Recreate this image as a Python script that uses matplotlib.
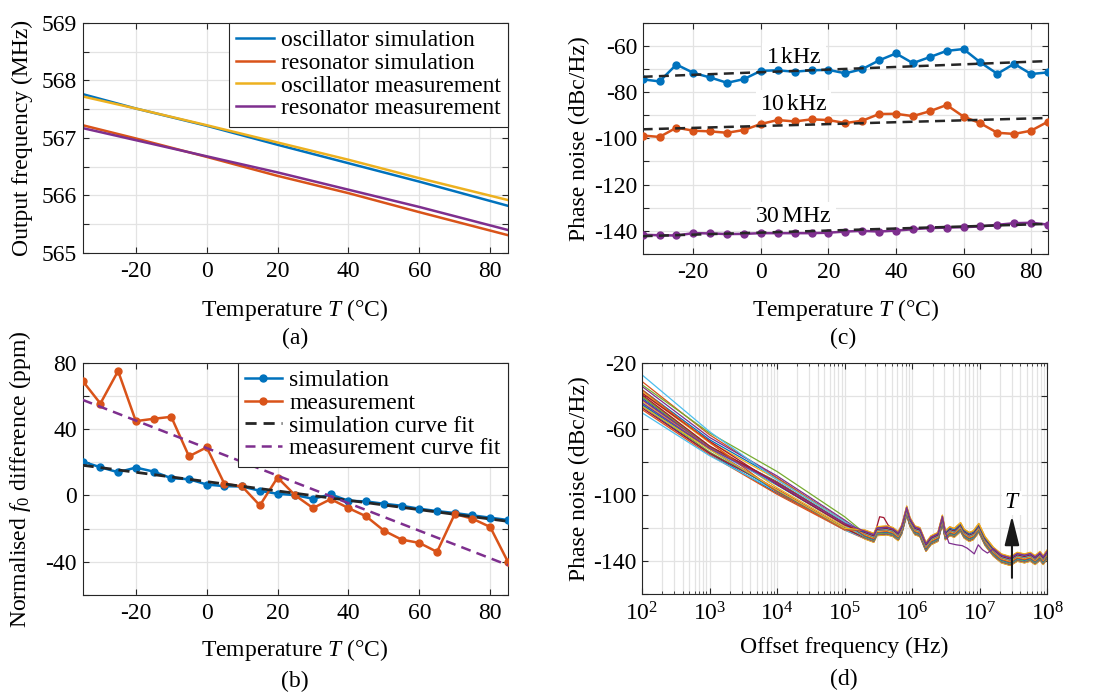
import numpy as np
import matplotlib
matplotlib.use('Agg')
import matplotlib.pyplot as plt
from matplotlib.ticker import FixedLocator, FuncFormatter, LogLocator, NullFormatter

plt.rcParams['font.family'] = 'Liberation Serif'
plt.rcParams['mathtext.fontset'] = 'custom'
plt.rcParams['mathtext.rm'] = 'Liberation Serif'
plt.rcParams['mathtext.it'] = 'Liberation Serif:italic'
plt.rcParams['font.size'] = 17
plt.rcParams['axes.unicode_minus'] = False

# matlab default colour order
C = ['#0072BD', '#D95319', '#EDB120', '#7E2F8E', '#77AC30', '#4DBEEE', '#A2142F']

# (a) output frequency vs temperature
temp_a = [-35, -20, 0, 20, 40, 60, 85]
osc_sim = [567.76, 567.51, 567.21, 566.88, 566.56, 566.24, 565.82]
res_sim = [567.22, 566.99, 566.67, 566.34, 566.04, 565.71, 565.31]
osc_meas = [567.72, 567.51, 567.22, 566.92, 566.62, 566.30, 565.92]
res_meas = [567.17, 566.96, 566.68, 566.40, 566.10, 565.80, 565.40]

# temperatures of the sweep (b, c, d)
temps = [-35, -30, -25, -20, -15, -10, -5, 0, 5, 10, 15, 20, 25,
         30, 35, 40, 45, 50, 55, 60, 65, 70, 75, 80, 85]

# (b) normalised f0 difference (ppm)
diff_sim = [20.4, 17, 14, 16.8, 14.4, 10.4, 9.8, 6.6, 5.6, 5.4, 2.8, 1, 0.2,
            -2, 0.6, -3.2, -3.6, -5, -6.2, -8, -9.4, -10.6, -12, -13.4, -14.8]
diff_meas = [69, 55.4, 75, 44.8, 46.2, 47.4, 23.6, 29, 7, 5.4, -6, 10.8, 0,
             -7.6, -2.2, -7.6, -12.6, -21.2, -26.6, -28.6, -34, -11.2, -14, -19, -40]
fit_T = [-35, 85]
fit_sim = [18.2, -15.6]
fit_meas = [57.6, -42]

# (c) phase noise at 1 kHz, 10 kHz, 30 MHz
pn_1k = [-74.5, -75.4, -68.1, -71.7, -73.7, -76, -74.4, -70.8, -70.6, -71.2, -70.6, -70.4, -71.9,
         -70.1, -66.3, -63.3, -67.5, -64.9, -62.2, -61.4, -67.2, -72.1, -67.8, -72.2, -71.5]
pn_10k = [-98.8, -99.4, -95.4, -96.7, -97, -97.6, -96.4, -93.8, -92.1, -92.7, -91.8, -92.1, -93.4,
          -92.4, -89.5, -89.4, -90.4, -88.3, -85.6, -90.6, -93.5, -97.6, -98.1, -96.7, -92.8]
pn_30M = [-141.7, -141.9, -142, -141, -141.1, -141.4, -141.3, -141, -141, -141, -141, -140.8, -140.3,
          -140, -140.3, -139.9, -139.3, -138.8, -138.6, -138.4, -138.1, -137.4, -136.7, -136.5, -137.3]
fit_1k = [-73.4, -66.6]
fit_10k = [-96.1, -91.2]
fit_30M = [-142.3, -137]

# (d) phase noise spectra, read at 100 Hz and 100 kHz for each temperature
pn_100 = [-46, -48, -38, -42, -45, -50, -47, -41, -40, -43, -42, -40, -44,
          -39, -36, -31, -37, -34, -33, -27, -38, -45, -36, -46, -44]
pn_100k = [-120, -121, -119, -120, -120, -121, -120, -118, -117, -118, -117, -117, -118,
           -117, -116, -116, -116, -115, -113, -116, -118, -120, -121, -120, -117]
lo_freq = [1e2, 1e3, 1e4, 1e5]
# common shape of the spectrum above 200 kHz (lowest trace)
hf_freq = [2e5, 2.7e5, 3e5, 4.2e5, 5.2e5, 6.2e5, 7e5, 8.3e5, 9.3e5, 1.1e6, 1.3e6, 1.6e6,
           1.9e6, 2.4e6, 2.8e6, 3.1e6, 3.6e6, 4.2e6, 5.2e6, 5.9e6, 7e6, 8e6, 9.7e6, 1.2e7,
           1.6e7, 2.1e7, 2.8e7, 3e7, 3.6e7, 4.6e7, 5.6e7, 6.6e7, 7.8e7, 8.7e7, 1e8]
hf_base = [-126.5, -128.5, -124.5, -124, -125, -127.5, -123.5, -112, -119, -124, -125, -134,
           -130, -128, -117.5, -127, -124.5, -125.5, -122, -126, -128, -127, -122.5, -130.5,
           -137, -141, -142.5, -142, -140, -141, -140, -142, -139.5, -142, -138.5]
# odd traces
bump_freq = [2.9e5, 3.3e5, 3.8e5, 4.4e5, 5e5]
bump_pn = [-121, -113, -113.5, -118, -120]
dip_freq = [3.5e6, 4.5e6, 5.5e6, 6.5e6, 7.5e6, 8.3e6, 9.5e6, 1.1e7, 1.3e7]
dip_pn = [-129, -130, -130.5, -132, -134, -135.5, -130, -133, -135]


def style(ax):
    ax.tick_params(direction='in', top=True, right=True, length=4, width=0.8,
                   colors='#262626', labelcolor='black', pad=6)
    ax.tick_params(axis='y', pad=4)
    for s in ax.spines.values():
        s.set_color('#262626')
        s.set_linewidth(0.8)
    ax.grid(True, color='#e3e3e3', lw=0.9)
    ax.set_axisbelow(True)


def sparse_labels(keep):
    return FuncFormatter(lambda v, p: ('%g' % v) if any(abs(v - k) < 1e-6 for k in keep) else '')


fig = plt.figure(figsize=(11.08, 6.93), dpi=100)
ax_a = fig.add_axes([0.0746, 0.6349, 0.3838, 0.3323])
ax_b = fig.add_axes([0.0746, 0.1414, 0.3838, 0.3352])
ax_c = fig.add_axes([0.5800, 0.6335, 0.3658, 0.3338])
ax_d = fig.add_axes([0.5794, 0.1424, 0.3658, 0.3334])

# ---- (a)
ax = ax_a
style(ax)
ax.plot(temp_a, osc_sim, color=C[0], lw=1.8, label='oscillator simulation')
ax.plot(temp_a, res_sim, color=C[1], lw=1.8, label='resonator simulation')
ax.plot(temp_a, osc_meas, color=C[2], lw=1.8, label='oscillator measurement')
ax.plot(temp_a, res_meas, color=C[3], lw=1.8, label='resonator measurement')
ax.set_xlim(-35, 85)
ax.set_ylim(565, 569)
ax.xaxis.set_major_locator(FixedLocator([-20, 0, 20, 40, 60, 80]))
ax.yaxis.set_major_locator(FixedLocator(np.arange(565, 569.01, 0.5)))
ax.yaxis.set_major_formatter(sparse_labels([565, 566, 567, 568, 569]))
ax.set_xlabel('Temperature $T$ (°C)')
ax.set_ylabel('Output frequency (MHz)')
leg = ax.legend(loc='upper right', borderaxespad=0, fancybox=False, framealpha=1,
                edgecolor='#262626', handlelength=1.6, handletextpad=0.3,
                labelspacing=0.05, borderpad=0.3)
leg.get_frame().set_linewidth(0.8)

# ---- (b)
ax = ax_b
style(ax)
ax.plot(temps, diff_sim, color=C[0], lw=1.8, marker='o', ms=5, label='simulation', zorder=3)
ax.plot(temps, diff_meas, color=C[1], lw=1.8, marker='o', ms=5, label='measurement', zorder=3)
ax.plot(fit_T, fit_sim, color='#262626', lw=2, ls=(0, (4, 2.5)), label='simulation curve fit', zorder=4)
ax.plot(fit_T, fit_meas, color=C[3], lw=1.8, ls=(0, (4, 2.5)), label='measurement curve fit', zorder=4)
ax.set_xlim(-35, 85)
ax.set_ylim(-60, 80)
ax.xaxis.set_major_locator(FixedLocator([-20, 0, 20, 40, 60, 80]))
ax.yaxis.set_major_locator(FixedLocator(np.arange(-60, 81, 20)))
ax.yaxis.set_major_formatter(sparse_labels([-40, 0, 40, 80]))
ax.set_xlabel('Temperature $T$ (°C)')
ax.set_ylabel('Normalised $f_0$ difference (ppm)')
leg = ax.legend(loc='upper right', borderaxespad=0, fancybox=False, framealpha=1,
                edgecolor='#262626', handlelength=1.6, handletextpad=0.3,
                labelspacing=0.05, borderpad=0.3)
leg.get_frame().set_linewidth(0.8)

# ---- (c)
ax = ax_c
style(ax)
for vals, fit, col, lab, ty in [(pn_1k, fit_1k, C[0], r'1$\,$kHz', -65),
                                (pn_10k, fit_10k, C[1], r'10$\,$kHz', -85.3),
                                (pn_30M, fit_30M, C[3], r'30$\,$MHz', -133.8)]:
    ax.plot(temps, vals, color=col, lw=1.8, marker='o', ms=5, zorder=3)
    ax.plot(fit_T, fit, color='#262626', lw=1.8, ls=(0, (4, 2.5)), zorder=4)
    ax.text(9.7, ty, lab, ha='center', va='center', zorder=2.5,
            bbox=dict(fc='white', ec='none', pad=3))
ax.set_xlim(-35, 85)
ax.set_ylim(-150, -50)
ax.xaxis.set_major_locator(FixedLocator([-20, 0, 20, 40, 60, 80]))
ax.yaxis.set_major_locator(FixedLocator(np.arange(-150, -49, 10)))
ax.yaxis.set_major_formatter(sparse_labels([-60, -80, -100, -120, -140]))
ax.set_xlabel('Temperature $T$ (°C)')
ax.set_ylabel('Phase noise (dBc/Hz)')

# ---- (d)
ax = ax_d
style(ax)
i30 = hf_freq.index(3e7)
for i in range(len(temps)):
    shift = pn_30M[i] - hf_base[i30]
    f = lo_freq + hf_freq
    pn = [pn_100[i], pn_1k[i], pn_10k[i], pn_100k[i]] + [b + shift for b in hf_base]
    if i == 13:
        keep = [(a, b) for a, b in zip(f, pn) if a < bump_freq[0] or a > bump_freq[-1]]
        pts = sorted(keep + list(zip(bump_freq, bump_pn)))
        f, pn = [p[0] for p in pts], [p[1] for p in pts]
    if i == 24:
        keep = [(a, b) for a, b in zip(f, pn) if a < dip_freq[0] or a > dip_freq[-1]]
        pts = sorted(keep + list(zip(dip_freq, dip_pn)))
        f, pn = [p[0] for p in pts], [p[1] for p in pts]
    ax.plot(f, pn, color=C[i % 7], lw=0.9)
ax.set_xscale('log')
ax.set_xlim(1e2, 1e8)
ax.set_ylim(-160, -20)
ax.xaxis.set_major_locator(LogLocator(base=10, numticks=10))
ax.xaxis.set_minor_locator(LogLocator(base=10, subs=np.arange(2, 10), numticks=100))
ax.xaxis.set_minor_formatter(NullFormatter())
ax.yaxis.set_major_locator(FixedLocator(np.arange(-160, -19, 20)))
ax.yaxis.set_major_formatter(sparse_labels([-20, -60, -100, -140]))
ax.tick_params(which='minor', direction='in', top=True, length=2.5, width=0.6, colors='#262626')
ax.grid(True, which='minor', color='#e3e3e3', lw=0.9)
ax.annotate('', xy=(3e7, -112.5), xytext=(3e7, -150),
            arrowprops=dict(arrowstyle='-|>,head_length=1.2,head_width=0.3',
                            color='#1a1a1a', lw=1.5, mutation_scale=15, shrinkA=0, shrinkB=0),
            zorder=5)
ax.text(3e7, -104.5, '$T$', ha='center', va='center', zorder=4,
        bbox=dict(fc='white', ec='none', pad=1))
ax.set_xlabel('Offset frequency (Hz)')
ax.set_ylabel('Phase noise (dBc/Hz)')

# label positions
for a, xl, yl in [(ax_a, -0.19, -0.117), (ax_b, -0.18, -0.117),
                  (ax_c, -0.185, -0.13), (ax_d, -0.183, -0.128)]:
    a.xaxis.set_label_coords(0.5, xl)
    a.yaxis.set_label_coords(yl, 0.5)

fig.text(0.266, 0.512, '(a)', ha='center', va='center')
fig.text(0.266, 0.017, '(b)', ha='center', va='center')
fig.text(0.761, 0.512, '(c)', ha='center', va='center')
fig.text(0.762, 0.019, '(d)', ha='center', va='center')

fig.savefig('out.png', dpi=100)
